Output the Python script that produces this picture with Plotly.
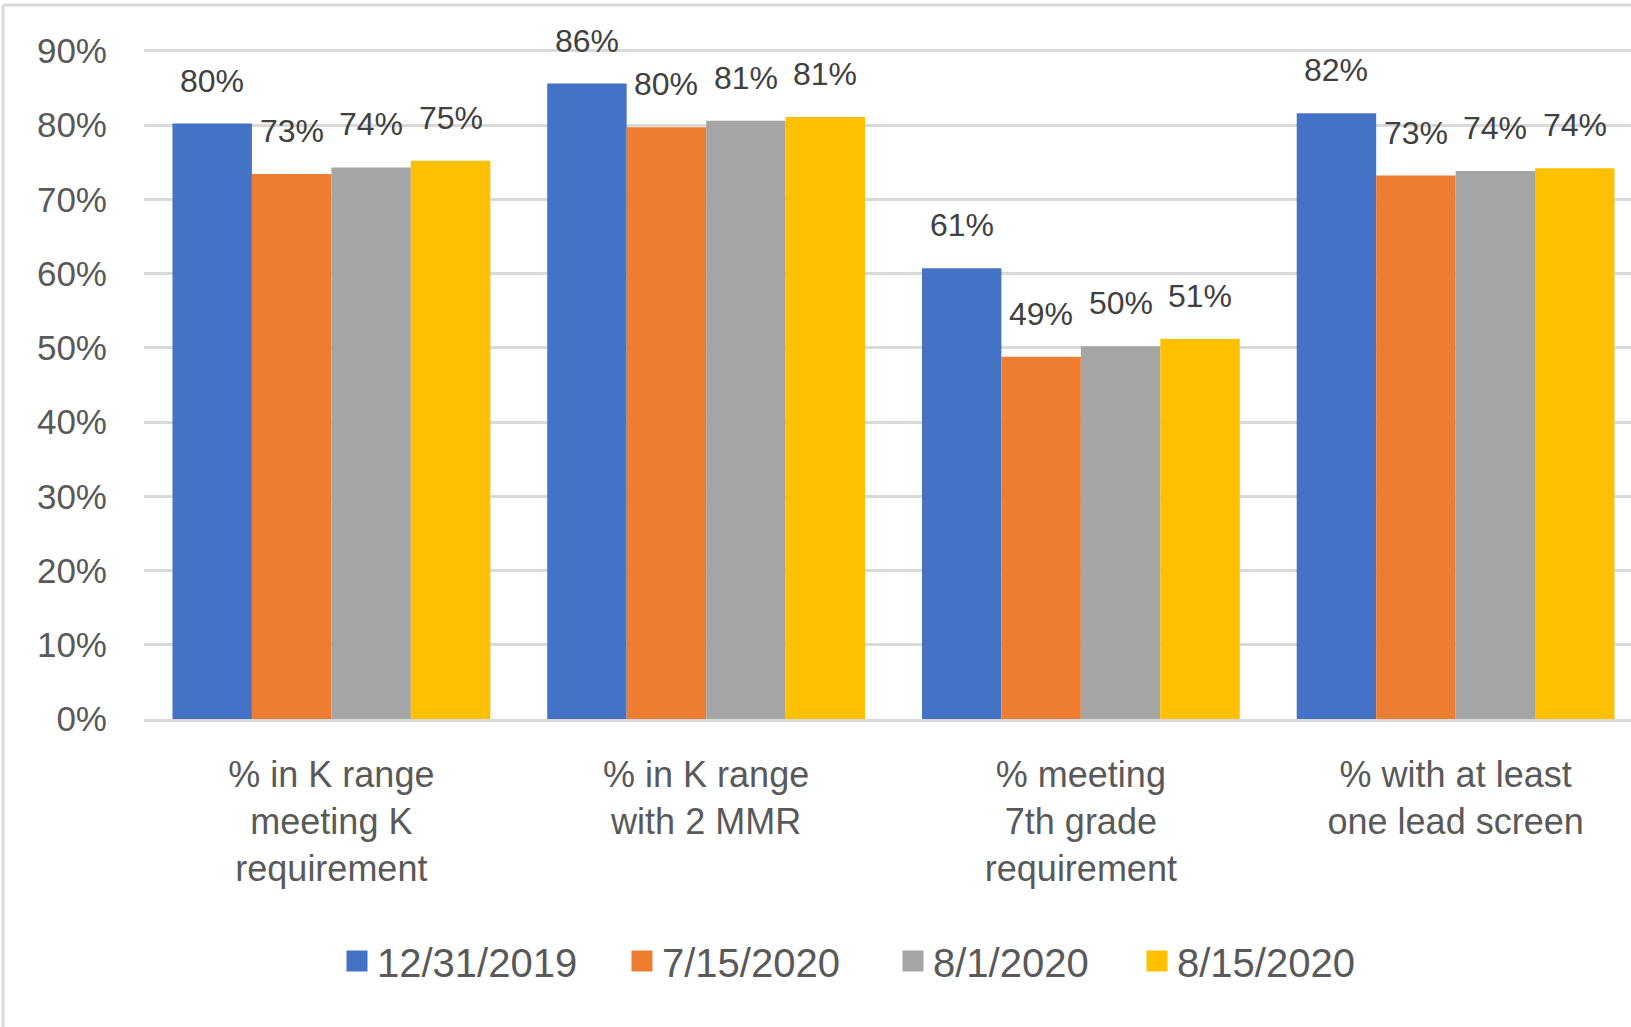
import plotly.graph_objects as go

# ---- data ----
categories = [
    "% in K range<br>meeting K<br>requirement",
    "% in K range<br>with 2 MMR",
    "% meeting<br>7th grade<br>requirement",
    "% with at least<br>one lead screen",
]
series_names = ["12/31/2019", "7/15/2020", "8/1/2020", "8/15/2020"]
vals_2019_12_31 = [0.802, 0.856, 0.607, 0.816]
vals_2020_07_15 = [0.734, 0.797, 0.488, 0.732]
vals_2020_08_01 = [0.743, 0.806, 0.502, 0.738]
vals_2020_08_15 = [0.752, 0.811, 0.512, 0.742]
y_tick_vals = [0.0, 0.1, 0.2, 0.3, 0.4, 0.5, 0.6, 0.7, 0.8, 0.9]

series_values = [vals_2019_12_31, vals_2020_07_15, vals_2020_08_01, vals_2020_08_15]
colors = ["#4472C4", "#ED7D31", "#A5A5A5", "#FFC000"]

FONT = "Liberation Sans, Arial, sans-serif"
W, H = 1631, 1027
ML, MR, MT, MB = 144, 0, 36, 308
BARGAP = 0.152
n_series = len(series_names)
bar_w = (1 - BARGAP) / n_series

fig = go.Figure()
for j, (name, vals, col) in enumerate(zip(series_names, series_values, colors)):
    fig.add_trace(go.Bar(
        x=categories, y=vals, name=name, marker=dict(color=col, line=dict(width=0)),
        showlegend=False, hoverinfo="skip",
    ))

# legend entries (one legend per entry for Excel-like spacing)
legend_x_px = [349, 634, 905, 1149]
for j, (name, col) in enumerate(zip(series_names, colors)):
    lg = "legend" if j == 0 else f"legend{j+1}"
    fig.add_trace(go.Scatter(
        x=[None], y=[None], mode="markers", name=name,
        marker=dict(symbol="square", size=16, color=col, line=dict(color=col, width=5)),
        legend=lg, showlegend=True,
    ))

annotations = []
for j, vals in enumerate(series_values):
    for i, v in enumerate(vals):
        annotations.append(dict(
            x=i + (j - (n_series - 1) / 2) * bar_w, y=v, xref="x", yref="y",
            text=f"{round(v * 100):.0f}%", showarrow=False, yanchor="middle", yshift=43,
            font=dict(family=FONT, size=32, color="#404040"),
        ))

pw = W - ML - MR
ph = H - MT - MB
def px_to_paper_x(px):
    return (px - ML) / pw
def px_to_paper_y(py):
    return (H - MB - py) / ph

legends = {}
for j in range(n_series):
    key = "legend" if j == 0 else f"legend{j+1}"
    legends[key] = dict(
        x=px_to_paper_x(legend_x_px[j] - 12), xanchor="left",
        y=px_to_paper_y(961), yanchor="middle",
        orientation="h", bgcolor="rgba(0,0,0,0)", borderwidth=0,
        font=dict(family=FONT, size=40, color="#595959"),
        itemclick=False, itemdoubleclick=False,
    )

border = "#D9D9D9"
shapes = [
    dict(type="line", xref="paper", yref="paper",
         x0=px_to_paper_x(3), x1=px_to_paper_x(W + 5), y0=px_to_paper_y(5), y1=px_to_paper_y(5),
         line=dict(color=border, width=3)),
    dict(type="line", xref="paper", yref="paper",
         x0=px_to_paper_x(3), x1=px_to_paper_x(3), y0=px_to_paper_y(5), y1=px_to_paper_y(H + 5),
         line=dict(color=border, width=3)),
]

fig.update_layout(
    width=W, height=H,
    margin=dict(l=ML, r=MR, t=MT, b=MB, pad=0),
    paper_bgcolor="white", plot_bgcolor="white",
    barmode="group", bargap=BARGAP, bargroupgap=0,
    font=dict(family=FONT, color="#595959"),
    xaxis=dict(
        type="category", range=[-0.5, 3.468],
        showgrid=False, showline=True, linecolor=border, linewidth=3,
        ticks="", ticklabelstandoff=22,
        tickfont=dict(family=FONT, size=36, color="#595959"),
        fixedrange=True,
    ),
    yaxis=dict(
        range=[0, 0.92], tickvals=y_tick_vals, tickformat=".0%",
        showgrid=True, gridcolor=border, gridwidth=3, zeroline=False,
        showline=False, ticks="", ticklabelstandoff=36,
        tickfont=dict(family=FONT, size=35, color="#595959"),
        fixedrange=True,
    ),
    annotations=annotations,
    shapes=shapes,
    **legends,
)

fig.write_html(
    "out.html",
    config={"displayModeBar": False},
    post_script="document.body.style.margin='0';document.body.style.overflow='hidden';",
)
